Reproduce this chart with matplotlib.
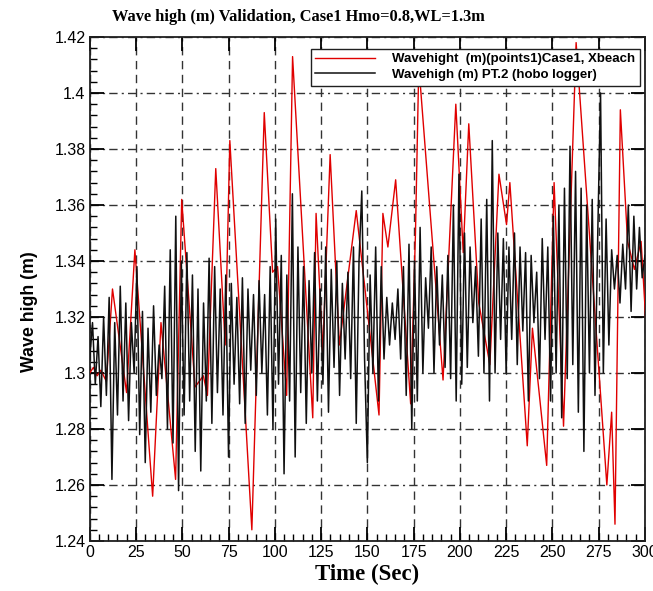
import numpy as np
import matplotlib
matplotlib.use("Agg")
import matplotlib.pyplot as plt
from matplotlib.ticker import MultipleLocator

# ---------------- data ----------------
title = "Wave high (m) Validation, Case1 Hmo=0.8,WL=1.3m"
xlabel = "Time (Sec)"
ylabel = "Wave high (m)"
label_red = "Wavehight  (m)(points1)Case1, Xbeach"
label_black = "Wavehigh (m) PT.2 (hobo logger)"

# XBeach model series (turning points)
red_t = [0, 2, 4, 6, 9.0, 12.3, 19.9, 24.4, 34.0, 38.5, 46.4, 49.7, 56.9, 61.4,
         63.6, 68.1, 73.2, 75.7, 87.6, 94.3, 98.8, 101.5, 106.4, 109.6, 120.5,
         122.3, 125.9, 129.9, 134.9, 144.0, 156.3, 158.4, 161.1, 165.3, 173.4,
         176.0, 177.8, 190.9, 197.8, 201.8, 204.8, 210.2, 216.2, 221.1, 225.2,
         227.0, 236.4, 239.2, 246.9, 250.9, 256.0, 262.8, 279.4, 282.0, 283.8,
         286.7, 290.6, 294.3, 297.9, 300.6]
red_v = [1.300, 1.302, 1.299, 1.301, 1.297, 1.330, 1.293, 1.344, 1.256, 1.318,
         1.262, 1.362, 1.295, 1.299, 1.292, 1.373, 1.310, 1.383, 1.244, 1.393,
         1.336, 1.338, 1.292, 1.413, 1.284, 1.357, 1.3075, 1.378, 1.310, 1.358,
         1.285, 1.357, 1.345, 1.369, 1.289, 1.350, 1.410, 1.2975, 1.396, 1.343,
         1.389, 1.325, 1.303, 1.371, 1.353, 1.368, 1.274, 1.316, 1.267, 1.368,
         1.281, 1.418, 1.260, 1.286, 1.246, 1.394, 1.347, 1.337, 1.347, 1.317]

# Measured (hobo logger) series, regularly sampled over 0-300 s
black_v = [
    1.305, 1.318, 1.296, 1.313, 1.288, 1.320, 1.292, 1.327, 1.262, 1.318,
    1.285, 1.331, 1.290, 1.325, 1.283, 1.318, 1.300, 1.338, 1.278, 1.322,
    1.268, 1.316, 1.286, 1.324, 1.292, 1.310, 1.298, 1.331, 1.280, 1.344,
    1.275, 1.356, 1.258, 1.340, 1.285, 1.343, 1.290, 1.335, 1.272, 1.330,
    1.265, 1.325, 1.290, 1.341, 1.282, 1.338, 1.293, 1.330, 1.285, 1.335,
    1.270, 1.332, 1.296, 1.327, 1.289, 1.334, 1.282, 1.330, 1.301, 1.328,
    1.292, 1.333, 1.300, 1.328, 1.285, 1.338, 1.280, 1.355, 1.296, 1.342,
    1.264, 1.335, 1.290, 1.364, 1.270, 1.345, 1.293, 1.338, 1.282, 1.333,
    1.300, 1.343, 1.290, 1.330, 1.296, 1.345, 1.286, 1.337, 1.302, 1.340,
    1.292, 1.332, 1.305, 1.336, 1.298, 1.345, 1.282, 1.340, 1.365, 1.305,
    1.268, 1.335, 1.300, 1.345, 1.290, 1.338, 1.305, 1.327, 1.310, 1.325,
    1.312, 1.330, 1.305, 1.338, 1.292, 1.346, 1.280, 1.340, 1.290, 1.352,
    1.300, 1.334, 1.316, 1.345, 1.300, 1.338, 1.310, 1.335, 1.302, 1.342,
    1.298, 1.360, 1.290, 1.371, 1.296, 1.350, 1.302, 1.345, 1.318, 1.338,
    1.306, 1.355, 1.300, 1.362, 1.290, 1.383, 1.300, 1.350, 1.312, 1.348,
    1.300, 1.345, 1.312, 1.350, 1.303, 1.345, 1.315, 1.343, 1.290, 1.342,
    1.318, 1.336, 1.298, 1.348, 1.312, 1.345, 1.290, 1.356, 1.300, 1.360,
    1.284, 1.366, 1.298, 1.381, 1.303, 1.372, 1.286, 1.366, 1.272, 1.360,
    1.300, 1.362, 1.292, 1.350, 1.400, 1.300, 1.355, 1.310, 1.344, 1.330,
    1.342, 1.325, 1.346, 1.330, 1.360, 1.322, 1.356, 1.330, 1.352, 1.334,
    1.342]
black_t = np.linspace(0, 300, len(black_v))

xticks = list(range(0, 301, 25))
yticks = [1.24, 1.26, 1.28, 1.30, 1.32, 1.34, 1.36, 1.38, 1.40, 1.42]
ytick_labels = ["1.24", "1.26", "1.28", "1.3", "1.32", "1.34", "1.36", "1.38", "1.4", "1.42"]

# ---------------- figure ----------------
fig = plt.figure(figsize=(6.53, 5.91), dpi=100)
ax = fig.add_axes([0.1374, 0.0846, 0.8503, 0.8528])

ax.plot(red_t, red_v, color="#e00000", lw=1.0, label=label_red, zorder=3)
ax.plot(black_t, black_v, color="#101010", lw=1.1, label=label_black, zorder=4)

ax.set_xlim(0, 300)
ax.set_ylim(1.24, 1.42)
ax.set_xticks(xticks)
ax.set_xticklabels([str(v) for v in xticks])
ax.set_yticks(yticks)
ax.set_yticklabels(ytick_labels)
ax.xaxis.set_minor_locator(MultipleLocator(5))
ax.yaxis.set_minor_locator(MultipleLocator(0.004))

ax.tick_params(which="major", direction="in", length=10, width=1.3,
               top=True, right=True, labelsize=11, pad=3)
ax.tick_params(which="minor", direction="in", length=5, width=1.0,
               top=False, right=False)
for lab in ax.get_xticklabels() + ax.get_yticklabels():
    lab.set_fontfamily("Liberation Sans")
    lab.set_fontsize(11.5)

for s in ax.spines.values():
    s.set_linewidth(1.3)
    s.set_color("#202020")

ax.grid(True, axis="y", which="major", color="#333333", lw=1.0,
        linestyle=(0, (6, 3, 1.5, 3)))
ax.grid(True, axis="x", which="major", color="#333333", lw=1.0,
        linestyle=(0, (6, 4)))
ax.set_axisbelow(True)

fig.text(298 / 653, 1 - 17 / 591, title, family="Liberation Serif", fontweight="bold",
         fontsize=11.8, ha="center", va="center")
ax.set_xlabel(xlabel, family="Liberation Serif", fontweight="bold", fontsize=16.5, labelpad=3)
ax.set_ylabel(ylabel, family="Liberation Sans", fontweight="bold", fontsize=12.8)
ax.yaxis.set_label_coords(-0.093, 0.455)

leg = ax.legend(loc="upper right", bbox_to_anchor=(0.9975, 0.985), frameon=True,
                fancybox=False, edgecolor="#202020", framealpha=1.0,
                prop={"family": "Liberation Sans", "weight": "bold", "size": 9.5},
                handlelength=4.5, borderpad=0.35, labelspacing=0.25, handletextpad=1.3,
                borderaxespad=0.3)
leg.get_frame().set_linewidth(1.0)
leg.set_zorder(10)

fig.savefig("out.png", dpi=100)
